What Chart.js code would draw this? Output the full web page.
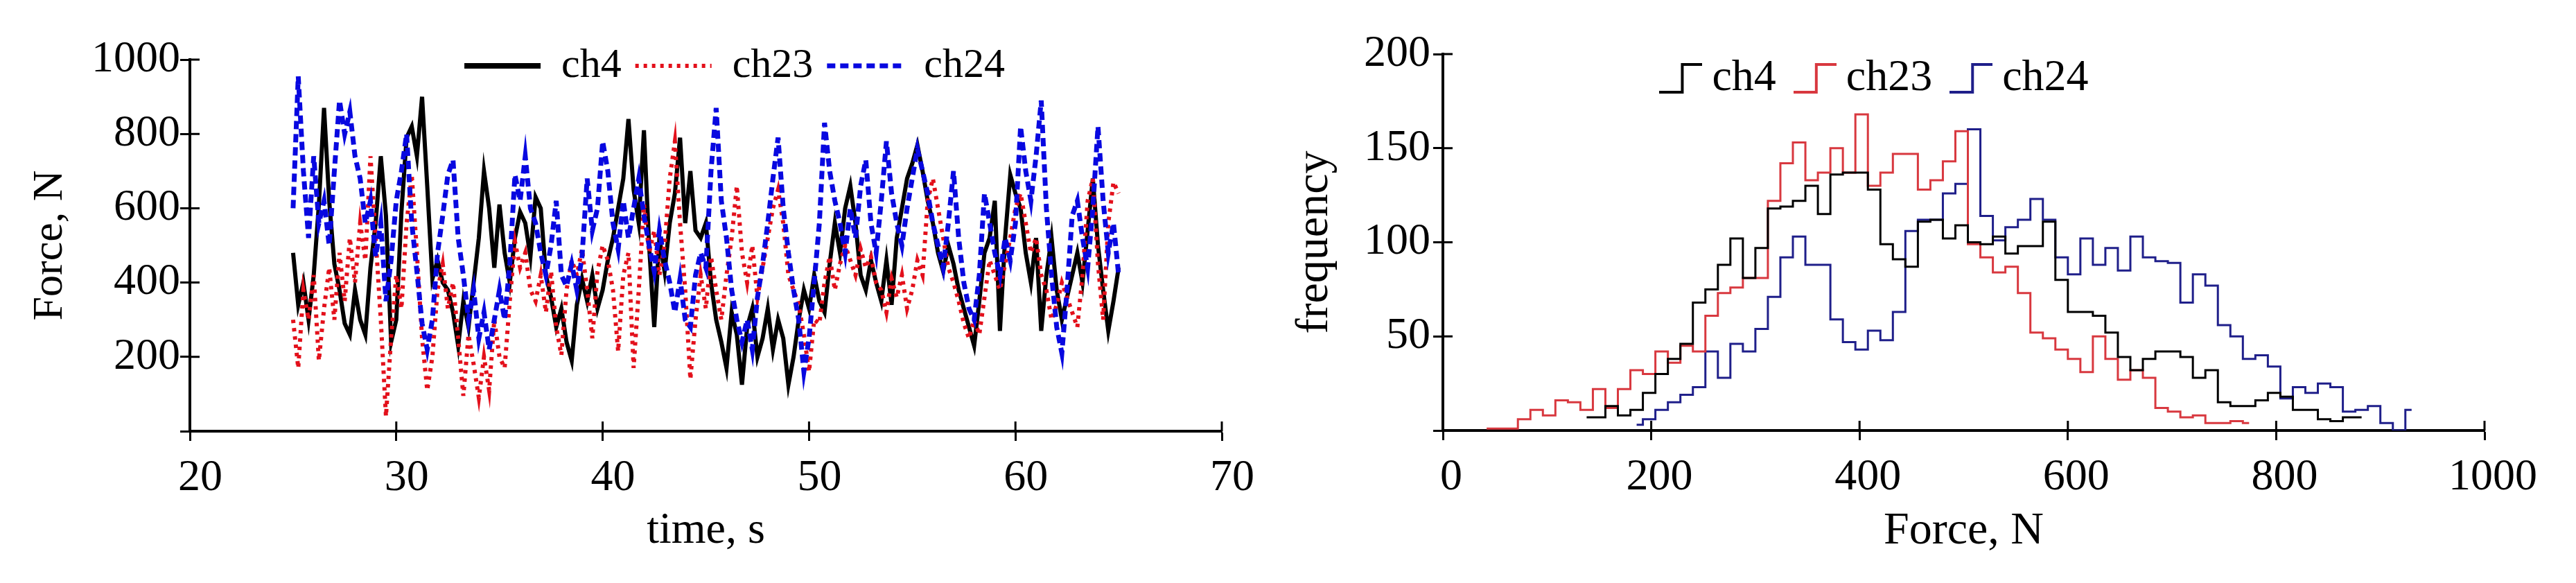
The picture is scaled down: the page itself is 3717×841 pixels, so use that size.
<!DOCTYPE html>
<html>
<head>
<meta charset="utf-8">
<script src="https://cdn.jsdelivr.net/npm/chart.js@4.4.1/dist/chart.umd.min.js"></script>
<style>
  html, body { margin: 0; padding: 0; background: #fff; }
  #forceTime { position: absolute; left: 0; top: 0; }
  #forceHist { position: absolute; left: 1850px; top: 0; }
</style>
</head>
<body>
<canvas id="forceTime" width="1850" height="841"></canvas>
<canvas id="forceHist" width="1867" height="841"></canvas>
<script>
// force vs time, sampled every 0.25 s from 25 s
var timeStart = 25;
var timeStep = 0.25;

var ch4Force = [480,340,400,300,420,610,870,620,450,380,
 290,260,380,300,260,440,560,740,580,240,
 300,590,790,820,740,900,660,410,460,400,
 380,320,230,350,280,400,520,700,600,440,
 610,480,400,520,590,560,470,630,600,420,
 360,280,330,240,190,340,410,350,420,330,
 380,460,520,600,680,840,650,560,810,500,
 280,520,430,560,640,790,560,700,540,520,
 560,400,300,240,170,320,260,125,280,330,
 200,250,330,220,300,250,125,200,300,380,
 330,420,350,320,450,560,480,600,660,560,
 420,380,460,400,350,460,340,520,600,680,
 720,770,700,620,560,480,430,500,450,380,
 330,280,230,350,480,520,620,270,520,690,
 640,600,480,400,520,270,420,520,380,300,
 360,420,480,400,540,680,500,380,270,350,
 440];

var ch23Force = [300,170,380,300,420,190,330,440,300,480,
 350,520,400,560,460,740,520,300,40,250,
 420,330,560,690,480,250,110,200,380,450,
 330,400,250,95,260,180,90,200,110,300,
 200,170,350,510,440,480,380,350,420,320,
 430,280,205,380,460,420,490,380,250,430,
 500,460,380,215,420,480,170,380,610,480,
 540,420,500,680,780,560,380,140,300,420,
 330,470,380,300,420,520,660,480,400,500,
 360,440,520,600,650,560,420,380,340,260,
 160,300,290,400,470,380,450,500,460,420,
 490,440,470,400,380,320,410,360,420,330,
 380,460,420,620,680,600,520,440,400,350,
 290,250,300,260,360,460,420,380,450,520,
 600,640,560,480,520,420,380,300,340,400,
 360,320,280,420,620,680,450,300,560,670,
 640];

var ch24Force = [600,955,700,520,740,560,620,500,700,890,
 800,860,740,680,560,620,470,560,350,460,
 620,700,800,560,430,290,220,300,480,580,
 690,730,520,420,300,380,250,320,220,300,
 380,300,450,690,620,740,600,560,480,420,
 500,620,420,390,450,380,470,680,540,600,
 780,700,560,490,620,520,600,680,580,500,
 430,540,460,400,320,410,300,280,420,480,
 440,700,870,620,520,380,300,240,300,220,
 360,450,560,680,790,600,480,380,300,160,
 250,400,560,830,700,620,560,480,600,520,
 660,730,560,480,620,780,640,560,500,600,
 680,760,700,640,560,500,440,560,700,520,
 400,330,300,420,640,560,480,420,520,460,
 560,820,700,620,740,890,600,420,280,210,
 380,580,620,520,440,600,820,620,480,560,
 420];

// histogram, 12 N bins starting at 36 N
var binStart = 36;
var binWidth = 12;

var ch4Count = [null,null,null,null,null,null,null,null,
 7,7,13,8,11,20,30,38,46,68,
 75,88,102,81,97,118,119,122,130,115,
 136,137,137,128,99,91,87,111,112,102,
 109,100,99,103,94,98,98,111,80,63,
 63,61,52,39,32,38,42,42,39,28,
 32,15,13,13,16,20,18,11,11,6,
 5,7,7,
 null,null,null,null];

var ch23Count = [1,1,1,6,11,8,16,15,11,22,
 12,22,32,30,42,36,45,42,61,73,
 76,81,81,122,142,153,133,137,150,137,
 168,130,137,147,147,128,133,143,159,99,
 92,84,87,73,52,49,43,38,31,50,
 38,27,32,28,12,10,7,8,4,4,
 5,4,
 null,null,null,null,null,null,null,null,null,null,null,null,null];

var ch24Count = [null,null,null,null,null,null,null,null,null,null,null,null,
 3,6,11,15,19,23,42,28,46,42,
 54,71,92,103,88,88,59,47,43,53,
 48,63,106,112,112,126,131,160,114,101,
 108,112,123,112,92,83,102,88,97,85,
 103,92,90,89,68,83,77,56,50,38,
 40,34,17,23,20,25,23,10,11,13,
 4,0,11];

var timeSec = [];
for (var i = 0; i < ch4Force.length; i++) timeSec.push(timeStart + i * timeStep);
var binCentre = [];
for (var k = 0; k < ch4Count.length; k++) binCentre.push(binStart + binWidth * k + binWidth / 2);

var serif = "'Liberation Serif', 'Times New Roman', serif";
Chart.defaults.font.family = serif;
Chart.defaults.color = '#000';

// tick marks cross the axis: draw the inner half
var innerTicks = {
  id: 'innerTicks',
  afterDraw: function (chart) {
    var ctx = chart.ctx, area = chart.chartArea, sx = chart.scales.x, sy = chart.scales.y;
    ctx.save();
    ctx.strokeStyle = '#000';
    ctx.lineWidth = 3;
    ctx.beginPath();
    sx.ticks.forEach(function (t) {
      var px = sx.getPixelForValue(t.value);
      ctx.moveTo(px, area.bottom);
      ctx.lineTo(px, area.bottom - 14);
    });
    sy.ticks.forEach(function (t) {
      var py = sy.getPixelForValue(t.value);
      ctx.moveTo(area.left, py);
      ctx.lineTo(area.left + 14, py);
    });
    ctx.stroke();
    ctx.restore();
  }
};

// legend sits over the top of the plot, not above it
var legendSpot = {
  id: 'legendSpot',
  afterLayout: function (chart, args, opts) {
    var lg = chart.legend;
    lg.left = opts.centre - 700;
    lg.right = opts.centre + 700;
    lg.top = opts.top;
    lg.bottom = opts.top + 140;
    lg.width = 1400;
    lg.height = 140;
  }
};

function legendItems(chart) {
  return chart.data.datasets.map(function (ds, i) {
    return {
      text: ds.label,
      strokeStyle: ds.borderColor,
      fillStyle: ds.borderColor,
      lineWidth: ds.legendWidth || ds.borderWidth,
      lineDash: ds.borderDash || [],
      pointStyle: ds.legendStyle || 'line',
      datasetIndex: i,
      hidden: false,
      fontColor: '#000'
    };
  });
}

function stepGlyph(color) {
  var c = document.createElement('canvas');
  c.width = 62; c.height = 46;
  var g = c.getContext('2d');
  g.strokeStyle = color;
  g.lineWidth = 4;
  g.beginPath();
  g.moveTo(0, 43); g.lineTo(33, 43); g.lineTo(33, 3); g.lineTo(62, 3);
  g.stroke();
  return c;
}

function axisLook(extra) {
  var base = {
    border: { color: '#000', width: 4 },
    grid: { drawOnChartArea: false, color: '#000', tickLength: 14, tickWidth: 3 }
  };
  return Object.assign(base, extra);
}

// ---- left: force vs time
var dataForForceTime = {
  labels: timeSec,
  datasets: [
    { label: 'ch4', data: ch4Force, borderColor: '#000000', borderWidth: 6, legendWidth: 8, pointRadius: 0, tension: 0, order: 3 },
    { label: 'ch23', data: ch23Force, borderColor: '#e3101b', borderWidth: 6, borderDash: [5, 7], pointRadius: 0, tension: 0, order: 2 },
    { label: 'ch24', data: ch24Force, borderColor: '#0808e0', borderWidth: 7, borderDash: [12, 7], pointRadius: 0, tension: 0, order: 1 }
  ]
};

var optionsForForceTime = {
  responsive: false,
  animation: false,
  devicePixelRatio: 1,
  layout: { padding: { left: 0, top: 66, right: 87, bottom: 0 } },
  plugins: {
    legend: {
      position: 'top', maxHeight: 20,
      labels: { usePointStyle: true, pointStyleWidth: 110, padding: 20, color: '#000',
        font: { family: serif, size: 60 }, generateLabels: legendItems }
    },
    tooltip: { enabled: false },
    legendSpot: { centre: 1060, top: 45 }
  },
  scales: {
    x: axisLook({
      type: 'linear', min: 20, max: 70,
      afterFit: function (s) { s.height = 219; },
      ticks: { stepSize: 10, padding: 16, labelOffset: 15, maxRotation: 0, color: '#000',
        font: { family: serif, size: 64 }, callback: function (v) { return String(v); } },
      title: { display: true, text: 'time, s', color: '#000', font: { family: serif, size: 64 }, padding: { top: 0, bottom: 36 } }
    }),
    y: axisLook({
      min: 0, max: 1000,
      afterFit: function (s) { s.width = 274; },
      ticks: { stepSize: 200, padding: 0, color: '#000', font: { family: serif, size: 64 },
        callback: function (v) { return v === 0 ? '' : String(v); } },
      title: { display: true, text: 'Force, N', color: '#000', font: { family: serif, size: 62 }, padding: { top: 36, bottom: 0 } }
    })
  }
};

var ctxForceTime = document.getElementById('forceTime').getContext('2d');
var chartForceTime = new Chart(ctxForceTime, { type: 'line', data: dataForForceTime, options: optionsForForceTime, plugins: [innerTicks, legendSpot] });

// ---- right: histogram of force
var dataForForceHist = {
  labels: binCentre,
  datasets: [
    { label: 'ch4', data: ch4Count, borderColor: '#000000', borderWidth: 3, stepped: 'middle', pointRadius: 0, legendStyle: stepGlyph('#000000') },
    { label: 'ch23', data: ch23Count, borderColor: '#d8383f', borderWidth: 3, stepped: 'middle', pointRadius: 0, legendStyle: stepGlyph('#d8383f') },
    { label: 'ch24', data: ch24Count, borderColor: '#1f1f8a', borderWidth: 3, stepped: 'middle', pointRadius: 0, legendStyle: stepGlyph('#1f1f8a') }
  ]
};

var optionsForForceHist = {
  responsive: false,
  animation: false,
  devicePixelRatio: 1,
  layout: { padding: { left: 0, top: 58, right: 132, bottom: 0 } },
  plugins: {
    legend: {
      position: 'top', maxHeight: 20,
      labels: { usePointStyle: true, pointStyleWidth: 26, padding: 43, color: '#000',
        font: { family: serif, size: 64 }, generateLabels: legendItems }
    },
    tooltip: { enabled: false },
    legendSpot: { centre: 863, top: 38 }
  },
  scales: {
    x: axisLook({
      type: 'linear', min: 0, max: 1000,
      afterFit: function (s) { s.height = 220; },
      ticks: { stepSize: 200, padding: 16, labelOffset: 12, maxRotation: 0, color: '#000',
        font: { family: serif, size: 64 }, callback: function (v) { return String(v); } },
      title: { display: true, text: 'Force, N', color: '#000', font: { family: serif, size: 66 }, padding: { top: 0, bottom: 35 } }
    }),
    y: axisLook({
      min: 0, max: 200,
      afterFit: function (s) { s.width = 232; },
      ticks: { stepSize: 50, padding: 4, color: '#000', font: { family: serif, size: 64 },
        callback: function (v) { return v === 0 ? '' : String(v); } },
      title: { display: true, text: 'frequency', color: '#000', font: { family: serif, size: 66 }, padding: { top: 8, bottom: 0 } }
    })
  }
};

var ctxForceHist = document.getElementById('forceHist').getContext('2d');
var chartForceHist = new Chart(ctxForceHist, { type: 'line', data: dataForForceHist, options: optionsForForceHist, plugins: [innerTicks, legendSpot] });
</script>
</body>
</html>
